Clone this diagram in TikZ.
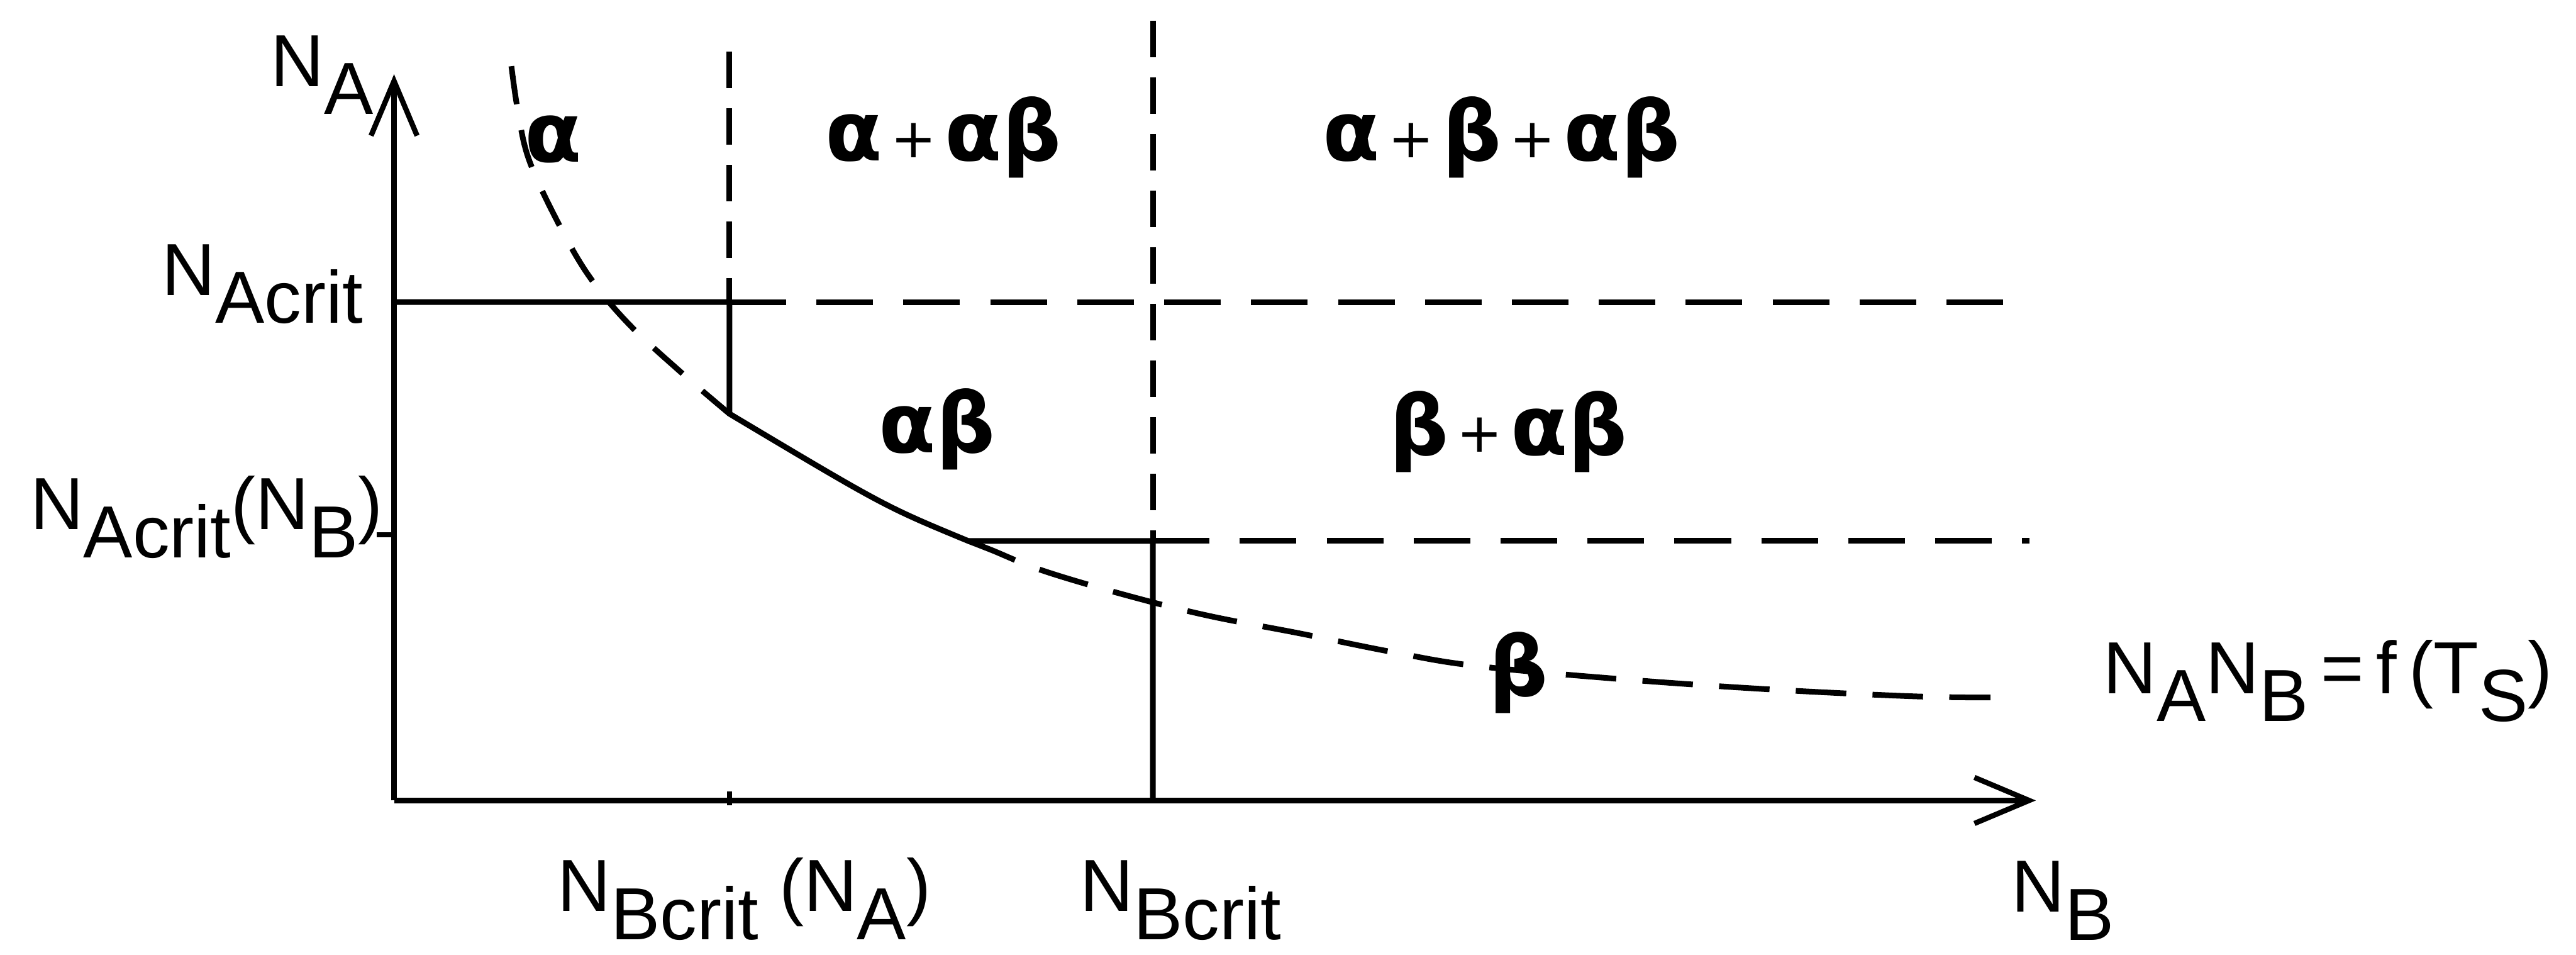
\documentclass[tikz,border=0pt]{standalone}
\usepackage{fontspec}
\setmainfont{Liberation Sans}
\newfontfamily\grkfont{DejaVu Sans}
\usetikzlibrary{arrows.meta}
\newcommand{\lo}[1]{\raisebox{-0.38em}{#1}}
\newcommand{\pl}{\hspace{0.1em}\raisebox{1.5pt}{\fontsize{27pt}{27pt}\selectfont\mdseries +}\hspace{0.1em}}
\tikzset{
  >={Straight Barb[length=9.5mm, width=8mm, line width=2.6pt]},
  axis/.style={line width=2.6pt},
  bound/.style={line width=2.8pt, line join=round},
  hdash/.style={line width=2.9pt, dash pattern=on 28pt off 15pt},
  vdash/.style={line width=2.8pt, dash pattern=on 18pt off 10pt},
  cdash/.style={line width=2.8pt, dash pattern=on 19pt off 13pt},
  cdashlong/.style={line width=2.8pt, dash pattern=on 25pt off 13pt},
  lbl/.style={inner sep=0pt, font=\fontsize{36.5pt}{40pt}\selectfont},
  phase/.style={inner sep=0pt, font=\grkfont\bfseries\fontsize{41pt}{44pt}\selectfont},
}
\begin{document}
\begin{tikzpicture}
  \useasboundingbox (-6.85,-2.68) rectangle (37.93,13.91);
  % axes
  \coordinate (O) at (0,0);
  \coordinate (ytip) at (0,12.62);
  \coordinate (xtip) at (28.54,0);
  \draw[axis,->] (O) -- (ytip);
  \draw[axis,->] (O) -- (xtip);
  % critical levels
  \coordinate (ac0) at (0,8.66);
  \coordinate (ac1) at (5.83,8.66);
  \coordinate (ac2) at (28.37,8.66);
  \coordinate (b1top) at (5.83,13.01);
  \coordinate (b1low) at (5.83,6.72);
  \coordinate (knee) at (9.98,4.51);
  \coordinate (b2) at (13.19,4.51);
  \coordinate (b2top) at (13.19,13.55);
  \coordinate (b2bot) at (13.19,0);
  \coordinate (ab2) at (28.43,4.51);
  \draw[hdash] (ac1) -- (ac2);
  \draw[hdash] (b2) -- (ab2);
  \draw[vdash] (b1top) -- (ac1);
  \draw[vdash] (b2top) -- (b2);
  % N_A N_B = const
  \draw[cdash] plot[smooth, tension=0.6] coordinates {(2.04,12.76) (2.15,12.00) (2.34,11.15)
    (2.81,10.12) (3.37,9.14) (4.07,8.29) (5.00,7.43) (5.83,6.72)};
  \draw[cdashlong] plot[smooth, tension=0.6] coordinates {(9.98,4.51) (10.39,4.35) (11.26,4.00)
    (12.64,3.59) (14.11,3.22) (15.76,2.90) (17.35,2.58) (18.79,2.34) (21.31,2.11)
    (23.92,1.93) (26.41,1.81) (27.75,1.79)};
  % phase boundary
  \draw[bound] (ac0) -- (ac1) -- (b1low) .. controls (8.53,5.11) .. (knee) -- (b2) -- (b2bot);
  % ticks
  \coordinate (tka) at (-0.3,4.62);
  \coordinate (tkb) at (0,4.62);
  \coordinate (tkc) at (5.83,-0.08);
  \coordinate (tkd) at (5.83,0.16);
  \draw[axis] (tka) -- (tkb);
  \draw[axis] (tkc) -- (tkd);
  % axis labels
  \node[lbl, anchor=base west] (na) at (-2.15,12.41) {N\lo{A}};
  \node[lbl, anchor=base west] (nac) at (-4.04,8.78) {N\lo{Acrit}};
  \node[lbl, anchor=base west] (nacb) at (-6.33,4.71) {N\lo{Acrit}(N\lo{B})};
  \node[lbl, anchor=base west] (nbca) at (2.84,-1.93) {N\lo{Bcrit} (N\lo{A})};
  \node[lbl, anchor=base west] (nbc) at (11.92,-1.93) {N\lo{Bcrit}};
  \node[lbl, anchor=base west] (nb) at (28.11,-1.94) {N\lo{B}};
  \node[lbl, anchor=base west] (prod) at (29.71,1.86) {N\lo{A}N\lo{B}\,=\,f\,(T\lo{S})};
  % phases
  \node[phase, anchor=base] (pa) at (2.77,11.10) {α};
  \node[phase, anchor=base] (paab) at (9.55,11.12) {α\pl αβ};
  \node[phase, anchor=base] (pabab) at (19.25,11.12) {α\pl β\pl αβ};
  \node[phase, anchor=base] (pab) at (9.44,6.04) {αβ};
  \node[phase, anchor=base] (pbab) at (19.37,6.0) {β\pl αβ};
  \node[phase, anchor=base] (pb) at (19.55,1.81) {β};
\end{tikzpicture}
\end{document}
